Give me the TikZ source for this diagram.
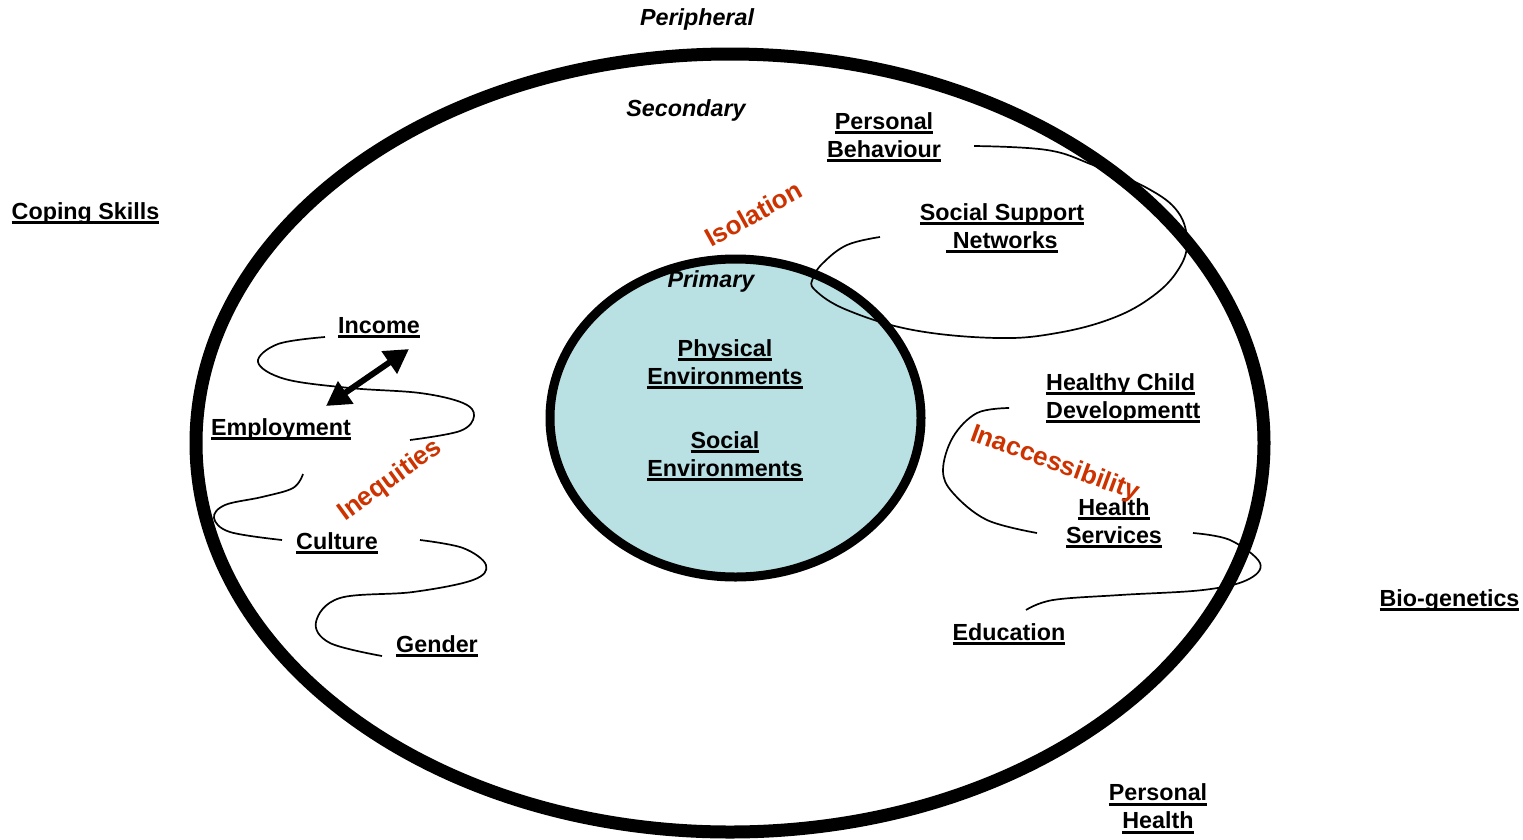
\documentclass[tikz,border=0pt]{standalone}
\usepackage{fontspec}
\setmainfont{Liberation Sans}
\usetikzlibrary{arrows.meta}
\definecolor{innerfill}{RGB}{185,224,227}
\definecolor{redlbl}{RGB}{204,51,0}
\newcommand\ulx[1]{\setbox0\hbox{#1}\rlap{\rule[-5pt]{\wd0}{3pt}}\rule{0pt}{18pt}\box0}
\tikzset{
  lbl/.style={inner sep=0pt, font=\fontsize{23.3}{28}\selectfont\bfseries, align=center},
  lvl/.style={inner sep=0pt, font=\fontsize{23.3}{28}\selectfont\bfseries\itshape},
  red/.style={inner sep=0pt, text=redlbl, font=\fontsize{26}{28}\selectfont\bfseries, anchor=base west},
  loopline/.style={line width=1.7pt},
}
\begin{document}
\begin{tikzpicture}[x=1pt,y=-1pt]
\useasboundingbox (0,0) rectangle (1523,839);
% circles
\draw[line width=13pt] (730,443) ellipse [x radius=534pt, y radius=389pt];
\draw[line width=9pt, fill=innerfill] (735.5,418) ellipse [x radius=185.5pt, y radius=159pt];
% level labels
\node[lvl, anchor=base] (peri) at (697,25) {Peripheral};
\node[lvl, anchor=base] (sec) at (686,116) {Secondary};
\node[lvl, anchor=base] (prim) at (711,287) {Primary};
% labels
\node[lbl] (pb) at (884,136.5) {\ulx{Personal}\\\ulx{Behaviour}};
\node[lbl] (ssn) at (1002,227.5) {\ulx{Social Support}\\\ulx{\ Networks}};
\node[lbl, anchor=base] (cope) at (85.5,219) {\ulx{Coping Skills}};
\node[lbl, anchor=base] (inc) at (379,333) {\ulx{Income}};
\node[lbl, anchor=base] (emp) at (281,435) {\ulx{Employment}};
\node[lbl, anchor=base] (cul) at (337,549) {\ulx{Culture}};
\node[lbl, anchor=base] (gen) at (437,652) {\ulx{Gender}};
\node[lbl] (phys) at (725,363.5) {\ulx{Physical}\\\ulx{Environments}};
\node[lbl] (soc) at (725,455.5) {\ulx{Social}\\\ulx{Environments}};
\node[lbl, align=left, anchor=west] (hcd) at (1046,397.5) {\ulx{Healthy Child}\\\ulx{Developmentt}};
\node[lbl] (hs) at (1114,522.5) {\ulx{Health}\\\ulx{Services}};
\node[lbl, anchor=base] (edu) at (1009,640) {\ulx{Education}};
\node[lbl, anchor=base] (bio) at (1449.5,606) {\ulx{Bio-genetics}};
\node[lbl] (ph) at (1158,808) {\ulx{Personal}\\\ulx{Health}};
% red labels
\node[red, rotate=29] (iso) at (711,248) {Isolation};
\node[red, rotate=36] (ineq) at (345,522) {Inequities};
\node[red, rotate=-20] (inacc) at (969,440) {Inaccessibility};
% loops
\draw[loopline] plot[smooth, tension=0.6] coordinates {(325,337) (278,344) (258,362) (285,379) (350,388) (420,393) (463,403) (474,416) (460,431) (410,440)};
\draw[loopline] plot[smooth, tension=0.6] coordinates {(303,474) (293,488) (262,497) (225,505) (214,518) (230,532) (282,540)};
\draw[loopline] plot[smooth, tension=0.6] coordinates {(420,540) (463,548) (486,565) (473,580) (413,592) (340,598) (316,622) (330,643) (382,656)};
\draw[loopline] plot[smooth, tension=0.65] coordinates {(974,146) (1047,150) (1093,165) (1147,188) (1178,212) (1187,243) (1178,270) (1153,296) (1113,318) (1057,333) (997,338) (913,330) (847,310) (815,290) (813,278) (823,263) (847,245) (880,237)};
\draw[loopline] plot[smooth, tension=0.6] coordinates {(1009,408) (977,413) (953,437) (943,470) (953,493) (987,520) (1037,533)};
\draw[loopline] plot[smooth, tension=0.6] coordinates {(1193,533) (1230,540) (1260,563) (1247,580) (1203,590) (1120,595) (1053,600) (1026,610)};
% arrow
\draw[line width=6pt, {Triangle[width=26pt,length=24pt]}-{Triangle[width=26pt,length=24pt]}] (326,406) -- (409,349);
\end{tikzpicture}
\end{document}
